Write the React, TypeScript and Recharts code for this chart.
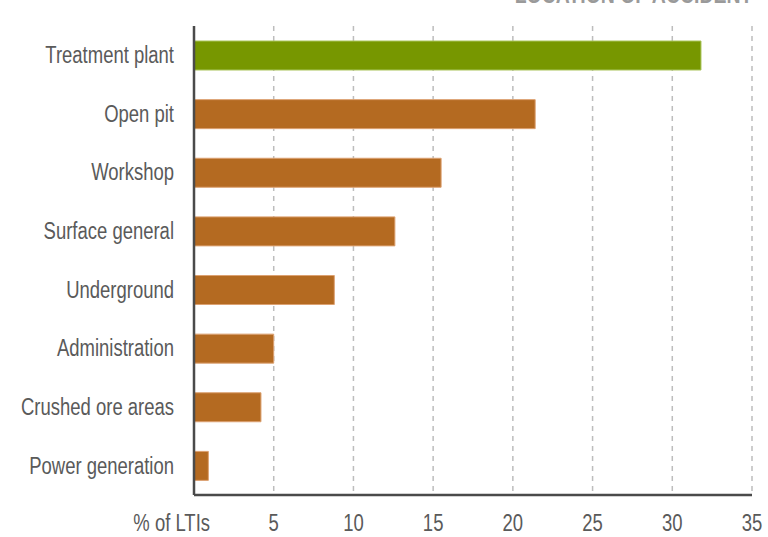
import React from 'react';
import { BarChart, Bar, XAxis, YAxis, CartesianGrid, Cell } from 'recharts';

const categories = [
  'Treatment plant',
  'Open pit',
  'Workshop',
  'Surface general',
  'Underground',
  'Administration',
  'Crushed ore areas',
  'Power generation',
];
const shares = [31.8, 21.4, 15.5, 12.6, 8.8, 5.0, 4.2, 0.9];
const xTicks = [0, 5, 10, 15, 20, 25, 30, 35];
const axisTitle = '% of LTIs';
const chartTitle = 'LOCATION OF ACCIDENT';

// no condensed font installed, so squeeze Liberation Sans sideways
const FONT = '"Liberation Sans", Arial, sans-serif';
const SQUEEZE = 0.77;
const TEXT_COLOR = '#5a5a5a';

const data = categories.map((name, i) => ({ name, value: shares[i] }));

const XTick = ({ x, y, payload }: any) => {
  const isTitle = payload.value === 0;
  return (
    <g transform={`translate(${isTitle ? x + 16 : x},${y}) scale(${SQUEEZE},1)`}>
      <text x={0} y={0} dy="0.71em" textAnchor={isTitle ? 'end' : 'middle'} fill={TEXT_COLOR} fontSize={24} fontFamily={FONT}>
        {isTitle ? axisTitle : payload.value}
      </text>
    </g>
  );
};

const YTick = ({ x, y, payload }: any) => (
  <g transform={`translate(${x},${y}) scale(${SQUEEZE},1)`}>
    <text x={0} y={0} dy="0.33em" textAnchor="end" fill={TEXT_COLOR} fontSize={24} fontFamily={FONT}>
      {payload.value}
    </text>
  </g>
);

export default function App() {
  return (
    <div style={{ position: 'absolute', left: 0, top: 0, width: 768, height: 537, overflow: 'hidden', background: '#fff' }}>
      <div
        style={{
          position: 'absolute',
          right: 16,
          top: -17,
          fontFamily: FONT,
          fontWeight: 'bold',
          fontSize: 24,
          lineHeight: 1,
          color: '#9a9a9a',
          whiteSpace: 'nowrap',
          transform: 'scaleX(0.81)',
          transformOrigin: 'right top',
        }}
      >
        {chartTitle}
      </div>
      <BarChart
        width={768}
        height={537}
        data={data}
        layout="vertical"
        margin={{ top: 26, right: 16, left: 0, bottom: 0 }}
      >
        <CartesianGrid horizontal={false} stroke="#bdbdbd" strokeWidth={1.5} strokeDasharray="5 5" />
        <XAxis
          type="number"
          domain={[0, 35]}
          ticks={xTicks}
          height={42}
          tickSize={0}
          tickMargin={19}
          tick={<XTick />}
          stroke="#4a4a4a"
          strokeWidth={2.5}
          interval={0}
        />
        <YAxis
          type="category"
          dataKey="name"
          width={194}
          tickSize={0}
          tickMargin={20}
          stroke="#4a4a4a"
          strokeWidth={2.5}
          tick={<YTick />}
          interval={0}
        />
        <Bar dataKey="value" barSize={29} isAnimationActive={false}>
          {data.map((d, i) => (
            <Cell
              key={d.name}
              fill={i === 0 ? '#779700' : '#b46a21'}
              stroke={i === 0 ? '#a9c45a' : '#dca171'}
              strokeWidth={1}
            />
          ))}
        </Bar>
      </BarChart>
    </div>
  );
}
